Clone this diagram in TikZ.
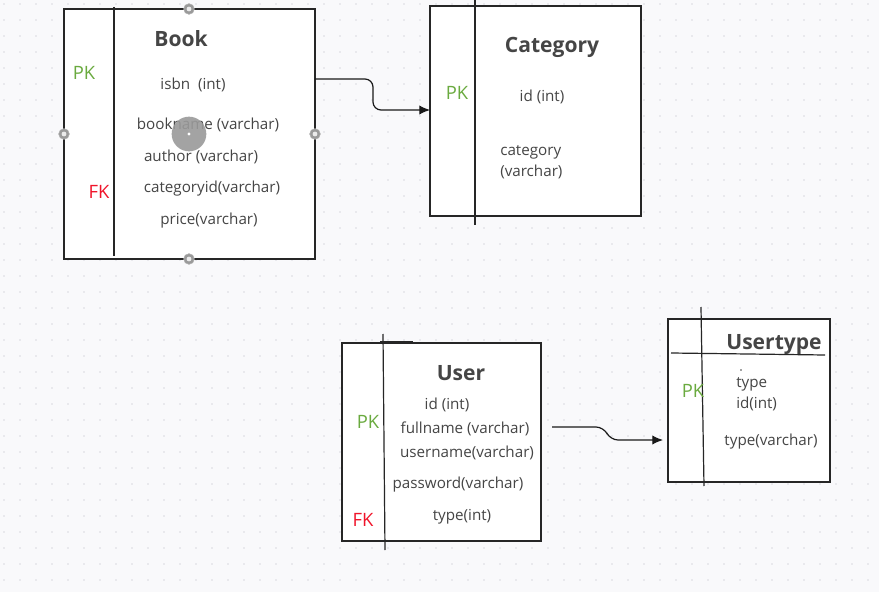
\documentclass[tikz,border=0pt]{standalone}
\usepackage{fontspec}
\setmainfont{Open Sans}
\usetikzlibrary{arrows.meta}
\definecolor{bg}{HTML}{F9F9FB}
\definecolor{gridc}{HTML}{DADADF}
\definecolor{txt}{HTML}{454545}
\definecolor{pkc}{HTML}{6AAA3F}
\definecolor{fkc}{HTML}{F0142A}
\definecolor{handle}{HTML}{9A9A9A}
\begin{document}
\begin{tikzpicture}[x=0.75pt,y=-0.75pt,
  entity/.style={draw=black!85,line width=0.9pt,fill=white},
  divider/.style={draw=black!85,line width=0.9pt},
  attr/.style={text=txt,font=\fontsize{11.4}{13}\selectfont,inner sep=0pt},
  ttl/.style={text=txt,font=\fontsize{15.8}{18}\selectfont\bfseries,inner sep=0pt},
  pk/.style={text=pkc,font=\fontsize{13.8}{15}\selectfont,inner sep=0pt},
  fk/.style={text=fkc,font=\fontsize{13.8}{15}\selectfont,inner sep=0pt},
  conn/.style={draw=black!90,line width=0.9pt,-{Latex[length=8pt,width=7pt]},rounded corners=6pt},
  hdl/.style={circle,fill=handle,draw=handle!80,inner sep=0pt,minimum size=8pt}]
\useasboundingbox (0,0) rectangle (879,592);
\fill[bg] (0,0) rectangle (879,592);
\foreach \i in {0,...,55}{\foreach \j in {0,...,37}{\fill[gridc] (4+16*\i,4+16*\j) circle (0.6pt);}}
% Book
\path[entity] (64,9) rectangle (315,259);
\draw[divider] (114,7) -- (114,256);
\node[ttl] (bookt) at (181,39) {Book};
\node[pk] (bookpk) at (84,73) {PK};
\node[fk] (bookfk) at (99,192) {FK};
\node[attr] (b1) at (193,85) {isbn\ \ (int)};
\node[attr] (b2) at (208,125) {bookname (varchar)};
\node[attr] (b3) at (201,157) {author (varchar)};
\node[attr] (b4) at (212,189) {categoryid(varchar)};
\node[attr] (b5) at (209,221) {price(varchar)};
\coordinate (bookE) at (315,79);
% selection handles
\node[hdl] (h1) at (189,9) {};
\node[hdl] (h2) at (64,134) {};
\node[hdl] (h3) at (315,134) {};
\node[hdl] (h4) at (189,259) {};
\foreach \h in {h1,h2,h3,h4}{\fill[white!80!handle] (\h) circle (1.8pt);}
\node[circle,fill=handle,opacity=0.9,inner sep=0pt,minimum size=26pt] (hc) at (189,134) {};
\fill[white] (hc) circle (1.3pt);
% Category
\path[entity] (430,6) rectangle (641,216);
\draw[divider] (475,0) -- (475,225);
\node[ttl] (catt) at (552,47) {Category};
\node[pk] (catpk) at (457,93) {PK};
\node[attr] (c1) at (542,97) {id (int)};
\node[attr,anchor=west] (c2) at (500,152) {category};
\node[attr,anchor=west] (c3) at (500,172) {(varchar)};
\coordinate (catW) at (430,110);
\draw[conn] (bookE) -- (373,79) -- (373,110) -- (catW);
% User
\path[entity] (342,343) rectangle (541,541);
\draw[divider] (383,334) -- (385,550);
\draw[line width=1.3pt,black!85] (380,342) -- (413,342);
\node[ttl] (usert) at (461,373) {User};
\node[pk] (userpk) at (368,422) {PK};
\node[fk] (userfk) at (363,520) {FK};
\node[attr] (u1) at (447,405) {id (int)};
\node[attr] (u2) at (465,429) {fullname (varchar)};
\node[attr] (u3) at (467,453) {username(varchar)};
\node[attr] (u4) at (458,485) {password(varchar)};
\node[attr] (u5) at (462,517) {type(int)};
\coordinate (userE) at (552,427);
% Usertype
\path[entity] (668,319) rectangle (830,482);
\draw[divider] (701,307) -- (704,486);
\draw[divider] (671,353) -- (825,355);
\node[ttl] (utt) at (774,345) {Usertype};
\node[pk] (utpk) at (693,391) {PK};
\fill[txt] (741,370) circle (0.6pt);
\node[attr,anchor=west] (ut1) at (736,384) {type};
\node[attr,anchor=west] (ut2) at (736,404) {id(int)};
\node[attr] (ut3) at (771,442) {type(varchar)};
\coordinate (utW) at (663,440);
\draw[conn] (userE) -- (604,427) -- (610,440) -- (utW);
\end{tikzpicture}
\end{document}
